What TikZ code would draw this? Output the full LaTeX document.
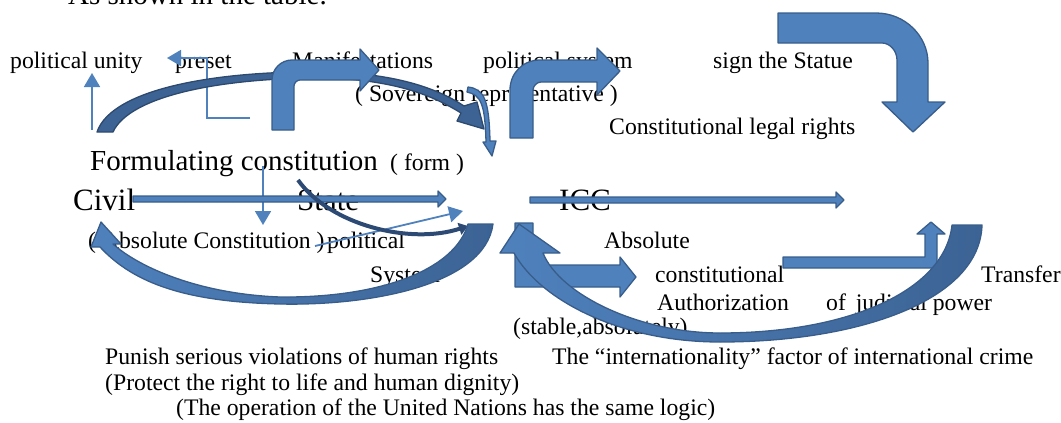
\documentclass[tikz,border=0pt]{standalone}
\usepackage{fontspec}
\setmainfont{Liberation Serif}
\usetikzlibrary{arrows.meta}
\definecolor{arrblue}{RGB}{79,129,189}
\definecolor{arredge}{RGB}{56,93,138}
\definecolor{arrdark}{RGB}{60,99,148}
\definecolor{arrnavy}{RGB}{44,74,116}
\tikzset{
  txt/.style={inner sep=0pt, anchor=base west, font=\fontsize{23.7}{28}\selectfont},
  bigtxt/.style={txt, font=\fontsize{31}{36}\selectfont},
  midtxt/.style={txt, font=\fontsize{29}{34}\selectfont},
  thinarr/.style={draw=arrblue, line width=1.8pt, -{Triangle[width=16pt,length=14pt]}},
  blockarr/.style={fill=arrblue, draw=arredge, line width=1.3pt, line join=round},
  bandarr/.style={draw=arredge, line width=1.3pt, line join=round, left color=arrblue, right color=arrdark},
  darkarr/.style={fill=arrdark, draw=arredge!80!black, line width=1.3pt, line join=round},
}
\begin{document}
\begin{tikzpicture}[x=1pt, y=-1pt]
    \useasboundingbox (0,0) rectangle (1061,423);
    % texts
    \node[midtxt] (title) at (68,5) {As shown in the table.};
    \node[txt] (unity) at (10,68) {political unity};
    \node[txt] (preset) at (175,68) {preset};
    \node[txt] (manif) at (292,68) {Manifestations};
    \node[txt] (polsys) at (483,68) {political system};
    \node[txt] (statue) at (713,68) {sign the Statue};
    \node[txt] (sovrep) at (355,101) {( Sovereign representative )};
    \node[txt] (legal) at (609,134) {Constitutional legal rights};
    \node[midtxt] (formcon) at (90,170) {Formulating constitution};
    \node[txt] (form) at (390,170) {( form )};
    \node[bigtxt] (civil) at (73,210) {Civil};
    \node[bigtxt] (state) at (297,210) {State};
    \node[bigtxt] (icc) at (559,210) {ICC};
    \node[txt] (abscon) at (88,248) {( Absolute Constitution )};
    \node[txt] (polit) at (327,248) {political};
    \node[txt] (system) at (370,282) {System};
    \node[txt] (absolute) at (604,248) {Absolute};
    \node[txt] (constit) at (655,282) {constitutional};
    \node[txt] (transfer) at (981,282) {Transfer};
    \node[txt] (author) at (657,310) {Authorization};
    \node[txt] (judicial) at (826,310) {of\, judicial power};
    \node[txt] (stable) at (513,334) {(stable,absolutely)};
    \node[txt] (intl) at (552,364) {The “internationality” factor of international crime};
    \node[txt] (punish) at (105,364) {Punish serious violations of human rights};
    \node[txt] (protect) at (105,390) {(Protect the right to life and human dignity)};
    \node[txt] (unlogic) at (176,415) {(The operation of the United Nations has the same logic)};

    % thin blue arrows
    \coordinate (u0) at (92,130);
    \coordinate (u1) at (92,73);
    \coordinate (p0) at (250,118);
    \coordinate (p1) at (167,58);
    \coordinate (d0) at (263,166);
    \coordinate (d1) at (263,225);
    \coordinate (g0) at (315,246);
    \coordinate (g1) at (463,211);
    \draw[thinarr] (u0) -- (u1);
    \draw[thinarr] (p0) -- (207,118) -- (207,58) -- (p1);
    \draw[thinarr] (d0) -- (d1);
    \draw[thinarr] (g0) -- (g1);

    % arc over the top
    \draw[darkarr] (97,132) .. controls (112,88) and (220,70) .. (330,72)
        .. controls (400,74) and (440,90) .. (464,106) -- (477,102) -- (484,129)
        -- (457,121) -- (461,113) .. controls (435,97) and (400,81) .. (330,78)
        .. controls (225,77) and (130,95) .. (113,132) -- cycle;

    % bent arrows
    \draw[blockarr] (272,130) -- (272,80) .. controls (272,69) and (281,60) .. (292,60)
        -- (360,60) -- (360,49) -- (379,70) -- (360,91) -- (360,80) -- (300,80)
        .. controls (297,80) and (294,83) .. (294,86) -- (294,130) -- cycle;
    \draw[blockarr] (468,87) .. controls (484,89) and (489,99) .. (490,141) -- (496,141)
        -- (492,156) -- (483,142) -- (486,142) .. controls (485,104) and (481,95) .. (467,92) -- cycle;
    \draw[blockarr] (510,138) -- (510,90) .. controls (510,73) and (523,60) .. (540,60)
        -- (597,60) -- (597,48) -- (620,71) -- (597,95) -- (597,82) -- (541,82)
        .. controls (537,82) and (533,86) .. (533,90) -- (533,138) -- cycle;
    \draw[blockarr] (778,13) -- (876,13) .. controls (905,13) and (928,36) .. (928,63)
        -- (928,102) -- (945,102) -- (913,132) -- (882,102) -- (897,102) -- (897,60)
        .. controls (897,51) and (890,43) .. (882,43) -- (778,43) -- cycle;

    % straight arrows
    \draw[blockarr] (133,196) -- (438,196) -- (438,191) -- (446,199) -- (438,207)
        -- (438,202) -- (133,202) -- cycle;
    \draw[blockarr] (530,197) -- (836,197) -- (836,192) -- (844,200) -- (836,208)
        -- (836,203) -- (530,203) -- cycle;

    % s-curve
    \coordinate (s0) at (298,180);
    \coordinate (s1) at (468,226);
    \draw[arrnavy, line width=4pt, -{Triangle[width=12pt,length=9pt]}]
        (s0) .. controls (330,225) and (410,245) .. (s1);

    % lower left curved arrow
    \draw[bandarr] (493,224) .. controls (485,285) and (370,306) .. (280,304)
        .. controls (190,302) and (135,285) .. (100,247) -- (91,247) -- (101,222)
        -- (121,244) -- (113,244) .. controls (140,268) and (200,294) .. (280,297)
        .. controls (380,298) and (455,270) .. (468,224) -- cycle;

    % L arrows
    \draw[blockarr] (515,223) -- (533,223) -- (533,265) -- (620,265) -- (620,257)
        -- (636,277) -- (620,297) -- (620,287) -- (515,287) -- cycle;
    \draw[blockarr] (783,257) -- (925,257) -- (925,234) -- (917,234) -- (931,222)
        -- (945,234) -- (937,234) -- (937,268) -- (783,268) -- cycle;

    % lower right curved arrow
    \draw[bandarr] (982,225) .. controls (980,300) and (860,342) .. (720,342)
        .. controls (620,342) and (540,300) .. (514,253) -- (500,253) -- (519,224)
        -- (560,253) -- (543,253) .. controls (560,295) and (640,333) .. (720,333)
        .. controls (850,333) and (945,290) .. (952,225) -- cycle;
\end{tikzpicture}
\end{document}
